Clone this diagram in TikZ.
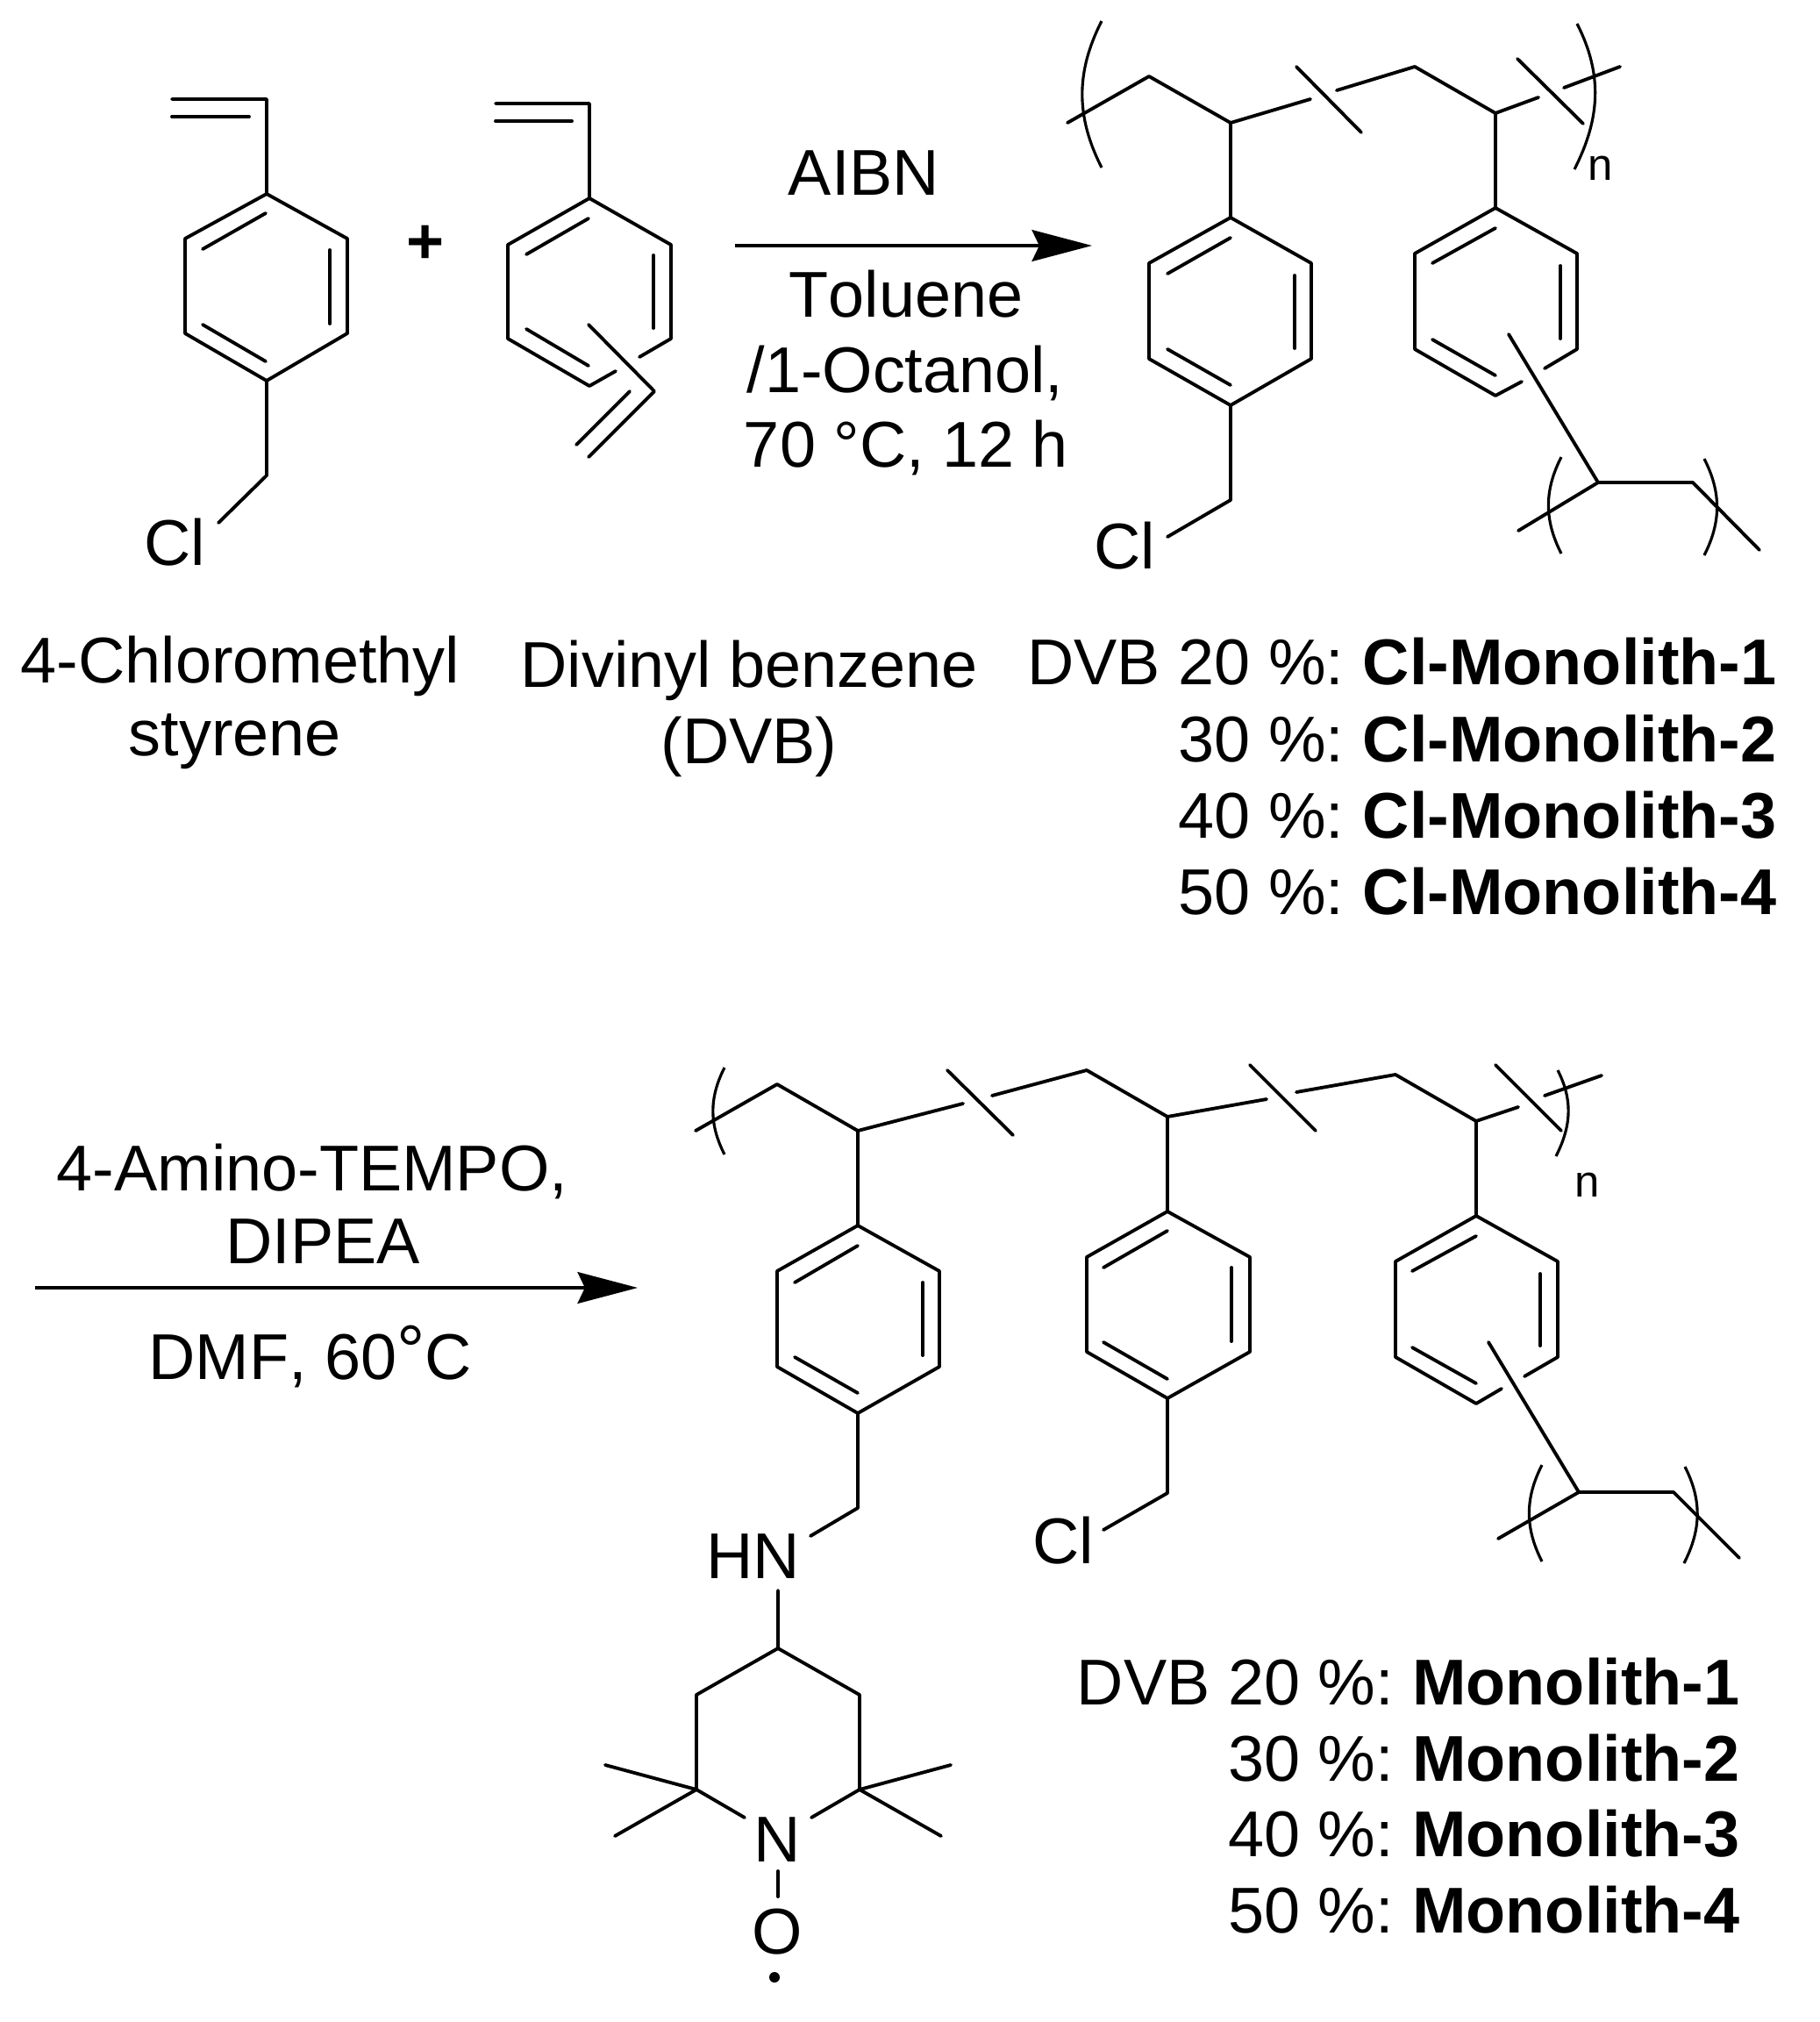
\documentclass[tikz,border=0pt]{standalone}
\usepackage{fontspec}
\setmainfont[Kerning=Off]{Liberation Sans}
\usetikzlibrary{arrows.meta}
\pgfdeclarelayer{edgelayer}
\pgfdeclarelayer{nodelayer}
\pgfsetlayers{edgelayer,nodelayer,main}
\tikzset{font=\fontsize{21}{25}\selectfont}
\tikzstyle{none}=[inner sep=0pt]
\tikzstyle{txt}=[inner sep=0pt,anchor=base]
\tikzstyle{txtr}=[inner sep=0pt,anchor=base east]
\tikzstyle{idx}=[inner sep=0pt,anchor=base,font=\fontsize{14.5}{17}\selectfont]
\tikzstyle{radical}=[circle,fill=black,inner sep=0pt,minimum size=0.12cm]
\tikzstyle{bond}=[line width=1.1pt,line cap=round,line join=round]
\tikzstyle{brack}=[line width=0.9pt,in=117,out=-117]
\tikzstyle{brackr}=[line width=0.9pt,in=63,out=-63]
\tikzstyle{arw}=[line width=0.9pt,-{Stealth[length=19.5pt,width=10.2pt,inset=2.4pt]}]
\newcommand{\colgap}{\hspace{-0.08em}}

\begin{document}
\begin{tikzpicture}
	\useasboundingbox (0,0) rectangle (20.75,-23.05);
	\begin{pgfonlayer}{nodelayer}
		\node [style=none] (0) at (1.96,-1.13) {};
		\node [style=none] (1) at (3.04,-1.13) {};
		\node [style=none] (2) at (1.96,-1.33) {};
		\node [style=none] (3) at (2.84,-1.33) {};
		\node [style=none] (4) at (3.04,-2.21) {};
		\node [style=none] (5) at (3.96,-2.72) {};
		\node [style=none] (6) at (3.96,-3.80) {};
		\node [style=none] (7) at (3.04,-4.34) {};
		\node [style=none] (8) at (2.11,-3.80) {};
		\node [style=none] (9) at (2.11,-2.72) {};
		\node [style=none] (10) at (2.31,-2.84) {};
		\node [style=none] (11) at (3.03,-2.43) {};
		\node [style=none] (12) at (3.76,-2.85) {};
		\node [style=none] (13) at (3.76,-3.69) {};
		\node [style=none] (14) at (2.31,-3.70) {};
		\node [style=none] (15) at (3.03,-4.12) {};
		\node [style=none] (16) at (3.04,-5.42) {};
		\node [style=none] (17) at (2.49,-5.96) {};
		\node [style=txt] (18) at (1.99,-6.44) {Cl};
		\node [style=none] (19) at (5.65,-1.18) {};
		\node [style=none] (20) at (6.72,-1.18) {};
		\node [style=none] (21) at (5.65,-1.38) {};
		\node [style=none] (22) at (6.52,-1.38) {};
		\node [style=none] (23) at (6.72,-2.26) {};
		\node [style=none] (24) at (7.65,-2.79) {};
		\node [style=none] (25) at (7.65,-3.86) {};
		\node [style=none] (26) at (7.29,-4.07) {};
		\node [style=none] (27) at (7.02,-4.23) {};
		\node [style=none] (28) at (6.72,-4.40) {};
		\node [style=none] (29) at (5.79,-3.86) {};
		\node [style=none] (30) at (5.79,-2.79) {};
		\node [style=none] (31) at (6.00,-2.90) {};
		\node [style=none] (32) at (6.71,-2.49) {};
		\node [style=none] (33) at (7.45,-2.91) {};
		\node [style=none] (34) at (7.45,-3.74) {};
		\node [style=none] (35) at (6.00,-3.75) {};
		\node [style=none] (36) at (6.71,-4.17) {};
		\node [style=none] (37) at (6.71,-3.70) {};
		\node [style=none] (38) at (7.46,-4.46) {};
		\node [style=none] (39) at (6.71,-5.21) {};
		\node [style=none] (40) at (7.18,-4.46) {};
		\node [style=none] (41) at (6.57,-5.07) {};
		\node [style=txt] (42) at (4.855,-3.00) {\textbf{+}};
		\node [style=none] (43) at (8.38,-2.80) {};
		\node [style=none] (44) at (12.45,-2.80) {};
		\node [style=txt] (45) at (9.85,-2.22) {AIBN};
		\node [style=none] (46) at (12.17,-1.40) {};
		\node [style=none] (47) at (13.10,-0.87) {};
		\node [style=none] (48) at (14.03,-1.40) {};
		\node [style=none] (49) at (14.94,-1.13) {};
		\node [style=none] (50) at (15.24,-1.03) {};
		\node [style=none] (51) at (16.13,-0.76) {};
		\node [style=none] (52) at (17.05,-1.29) {};
		\node [style=none] (53) at (17.54,-1.11) {};
		\node [style=none] (54) at (17.83,-1.00) {};
		\node [style=none] (55) at (18.47,-0.76) {};
		\node [style=none] (56) at (14.78,-0.76) {};
		\node [style=none] (57) at (15.52,-1.51) {};
		\node [style=none] (58) at (17.30,-0.67) {};
		\node [style=none] (59) at (18.05,-1.41) {};
		\node [style=none] (60) at (12.56,-0.24) {};
		\node [style=none] (61) at (12.56,-1.91) {};
		\node [style=none] (62) at (17.98,-0.27) {};
		\node [style=none] (63) at (17.95,-1.93) {};
		\node [style=idx] (64) at (18.25,-2.05) {n};
		\node [style=none] (65) at (14.03,-2.48) {};
		\node [style=none] (66) at (14.95,-3.00) {};
		\node [style=none] (67) at (14.95,-4.09) {};
		\node [style=none] (68) at (14.03,-4.62) {};
		\node [style=none] (69) at (13.10,-4.09) {};
		\node [style=none] (70) at (13.10,-3.00) {};
		\node [style=none] (71) at (13.31,-3.12) {};
		\node [style=none] (72) at (14.03,-2.71) {};
		\node [style=none] (73) at (14.76,-3.14) {};
		\node [style=none] (74) at (14.76,-3.97) {};
		\node [style=none] (75) at (13.31,-3.98) {};
		\node [style=none] (76) at (14.03,-4.39) {};
		\node [style=none] (77) at (14.03,-5.70) {};
		\node [style=none] (78) at (13.31,-6.12) {};
		\node [style=txt] (79) at (12.82,-6.48) {Cl};
		\node [style=none] (80) at (17.05,-2.37) {};
		\node [style=none] (81) at (17.98,-2.89) {};
		\node [style=none] (82) at (17.98,-3.98) {};
		\node [style=none] (83) at (17.61,-4.20) {};
		\node [style=none] (84) at (17.35,-4.35) {};
		\node [style=none] (85) at (17.05,-4.51) {};
		\node [style=none] (86) at (16.13,-3.98) {};
		\node [style=none] (87) at (16.13,-2.89) {};
		\node [style=none] (88) at (16.33,-3.00) {};
		\node [style=none] (89) at (17.05,-2.60) {};
		\node [style=none] (90) at (17.79,-3.03) {};
		\node [style=none] (91) at (17.79,-3.86) {};
		\node [style=none] (92) at (16.33,-3.87) {};
		\node [style=none] (93) at (17.05,-4.28) {};
		\node [style=none] (94) at (17.20,-3.81) {};
		\node [style=none] (95) at (18.22,-5.50) {};
		\node [style=none] (96) at (17.31,-6.05) {};
		\node [style=none] (97) at (19.30,-5.50) {};
		\node [style=none] (98) at (20.06,-6.27) {};
		\node [style=none] (99) at (17.80,-5.21) {};
		\node [style=none] (100) at (17.80,-6.31) {};
		\node [style=none] (101) at (19.43,-5.23) {};
		\node [style=none] (102) at (19.43,-6.33) {};
		\node [style=txtr] (103) at (20.26,-7.80) {DVB 20 \%: \colgap\textbf{Cl-Monolith-1}};
		\node [style=txtr] (104) at (20.26,-8.68) {30 \%: \colgap\textbf{Cl-Monolith-2}};
		\node [style=txtr] (105) at (20.26,-9.55) {40 \%: \colgap\textbf{Cl-Monolith-3}};
		\node [style=txtr] (106) at (20.26,-10.42) {50 \%: \colgap\textbf{Cl-Monolith-4}};
		\node [style=none] (107) at (0.40,-14.68) {};
		\node [style=none] (108) at (7.27,-14.68) {};
		\node [style=txt] (109) at (3.56,-13.57) {4-Amino-TEMPO,};
		\node [style=txt] (110) at (3.68,-14.40) {DIPEA};
		\node [style=txt] (111) at (3.54,-15.72) {DMF, 60\raisebox{0.05cm}{\fontsize{23}{23}\selectfont °}C};
		\node [style=none] (112) at (7.93,-12.89) {};
		\node [style=none] (113) at (8.86,-12.36) {};
		\node [style=none] (114) at (9.78,-12.89) {};
		\node [style=none] (115) at (10.98,-12.58) {};
		\node [style=none] (116) at (11.31,-12.49) {};
		\node [style=none] (117) at (12.39,-12.20) {};
		\node [style=none] (118) at (13.31,-12.73) {};
		\node [style=none] (119) at (14.44,-12.53) {};
		\node [style=none] (120) at (14.78,-12.45) {};
		\node [style=none] (121) at (15.91,-12.25) {};
		\node [style=none] (122) at (16.83,-12.78) {};
		\node [style=none] (123) at (17.31,-12.62) {};
		\node [style=none] (124) at (17.61,-12.49) {};
		\node [style=none] (125) at (18.26,-12.26) {};
		\node [style=none] (126) at (10.80,-12.20) {};
		\node [style=none] (127) at (11.55,-12.94) {};
		\node [style=none] (128) at (14.25,-12.14) {};
		\node [style=none] (129) at (15.00,-12.89) {};
		\node [style=none] (130) at (17.05,-12.14) {};
		\node [style=none] (131) at (17.80,-12.89) {};
		\node [style=none] (132) at (8.26,-12.17) {};
		\node [style=none] (133) at (8.26,-13.16) {};
		\node [style=none] (134) at (17.76,-12.20) {};
		\node [style=none] (135) at (17.74,-13.18) {};
		\node [style=idx] (136) at (18.10,-13.64) {n};
		\node [style=none] (137) at (9.78,-13.97) {};
		\node [style=none] (138) at (10.71,-14.49) {};
		\node [style=none] (139) at (10.71,-15.58) {};
		\node [style=none] (140) at (9.78,-16.11) {};
		\node [style=none] (141) at (8.86,-15.58) {};
		\node [style=none] (142) at (8.86,-14.49) {};
		\node [style=none] (143) at (9.06,-14.62) {};
		\node [style=none] (144) at (9.78,-14.20) {};
		\node [style=none] (145) at (10.52,-14.62) {};
		\node [style=none] (146) at (10.52,-15.45) {};
		\node [style=none] (147) at (9.06,-15.47) {};
		\node [style=none] (148) at (9.78,-15.88) {};
		\node [style=none] (149) at (9.78,-17.19) {};
		\node [style=none] (150) at (9.24,-17.51) {};
		\node [style=txt] (151) at (8.59,-17.99) {HN};
		\node [style=none] (152) at (8.87,-18.13) {};
		\node [style=none] (153) at (8.87,-18.79) {};
		\node [style=none] (154) at (9.80,-19.32) {};
		\node [style=none] (155) at (9.80,-20.40) {};
		\node [style=none] (156) at (9.25,-20.72) {};
		\node [style=none] (157) at (8.49,-20.72) {};
		\node [style=none] (158) at (7.94,-20.40) {};
		\node [style=none] (159) at (7.94,-19.32) {};
		\node [style=none] (160) at (6.90,-20.12) {};
		\node [style=none] (161) at (7.01,-20.93) {};
		\node [style=none] (162) at (10.84,-20.12) {};
		\node [style=none] (163) at (10.73,-20.93) {};
		\node [style=txt] (164) at (8.86,-21.22) {N};
		\node [style=none] (165) at (8.87,-21.33) {};
		\node [style=none] (166) at (8.87,-21.62) {};
		\node [style=txt] (167) at (8.86,-22.27) {O};
		\node [style=radical] (168) at (8.83,-22.54) {};
		\node [style=none] (169) at (13.31,-13.81) {};
		\node [style=none] (170) at (14.25,-14.33) {};
		\node [style=none] (171) at (14.25,-15.41) {};
		\node [style=none] (172) at (13.31,-15.94) {};
		\node [style=none] (173) at (12.39,-15.41) {};
		\node [style=none] (174) at (12.39,-14.33) {};
		\node [style=none] (175) at (12.58,-14.45) {};
		\node [style=none] (176) at (13.31,-14.03) {};
		\node [style=none] (177) at (14.04,-14.45) {};
		\node [style=none] (178) at (14.04,-15.29) {};
		\node [style=none] (179) at (12.58,-15.30) {};
		\node [style=none] (180) at (13.31,-15.72) {};
		\node [style=none] (181) at (13.31,-17.02) {};
		\node [style=none] (182) at (12.58,-17.44) {};
		\node [style=txt] (183) at (12.12,-17.82) {Cl};
		\node [style=none] (184) at (16.83,-13.86) {};
		\node [style=none] (185) at (17.76,-14.38) {};
		\node [style=none] (186) at (17.76,-15.47) {};
		\node [style=none] (187) at (17.38,-15.69) {};
		\node [style=none] (188) at (17.12,-15.83) {};
		\node [style=none] (189) at (16.83,-16.00) {};
		\node [style=none] (190) at (15.91,-15.47) {};
		\node [style=none] (191) at (15.91,-14.38) {};
		\node [style=none] (192) at (16.10,-14.49) {};
		\node [style=none] (193) at (16.83,-14.09) {};
		\node [style=none] (194) at (17.56,-14.52) {};
		\node [style=none] (195) at (17.56,-15.34) {};
		\node [style=none] (196) at (16.10,-15.36) {};
		\node [style=none] (197) at (16.83,-15.77) {};
		\node [style=none] (198) at (16.97,-15.30) {};
		\node [style=none] (199) at (18.00,-17.01) {};
		\node [style=none] (200) at (17.08,-17.54) {};
		\node [style=none] (201) at (19.08,-17.01) {};
		\node [style=none] (202) at (19.83,-17.76) {};
		\node [style=none] (203) at (17.58,-16.70) {};
		\node [style=none] (204) at (17.58,-17.80) {};
		\node [style=none] (205) at (19.21,-16.72) {};
		\node [style=none] (206) at (19.20,-17.82) {};
		\node [style=txtr] (207) at (19.84,-19.43) {DVB 20 \%: \colgap\textbf{Monolith-1}};
		\node [style=txtr] (208) at (19.84,-20.30) {30 \%: \colgap\textbf{Monolith-2}};
		\node [style=txtr] (209) at (19.84,-21.16) {40 \%: \colgap\textbf{Monolith-3}};
		\node [style=txtr] (210) at (19.84,-22.03) {50 \%: \colgap\textbf{Monolith-4}};
		\node [style=txt] (211) at (2.74,-7.785) {4-Chloromethyl};
		\node [style=txt] (212) at (2.68,-8.61) {styrene};
		\node [style=txt] (213) at (8.54,-7.83) {Divinyl benzene};
		\node [style=txt] (214) at (8.54,-8.70) {(DVB)};
		\node [style=txt] (215) at (10.33,-3.61) {Toluene};
		\node [style=txt] (216) at (10.32,-4.47) {/1-Octanol,};
		\node [style=txt] (217) at (10.33,-5.32) {70 °C, 12 h};
	\end{pgfonlayer}
	\begin{pgfonlayer}{edgelayer}
		\draw [style=bond] (0.center) to (1.center) to (4.center) to (5.center) to (6.center) to (7.center) to (8.center) to (9.center) to (4.center);
		\draw [style=bond] (2.center) to (3.center);
		\draw [style=bond] (10.center) to (11.center);
		\draw [style=bond] (12.center) to (13.center);
		\draw [style=bond] (14.center) to (15.center);
		\draw [style=bond] (7.center) to (16.center) to (17.center);
		\draw [style=bond] (19.center) to (20.center) to (23.center) to (24.center) to (25.center) to (26.center);
		\draw [style=bond] (21.center) to (22.center);
		\draw [style=bond] (27.center) to (28.center) to (29.center) to (30.center) to (23.center);
		\draw [style=bond] (31.center) to (32.center);
		\draw [style=bond] (33.center) to (34.center);
		\draw [style=bond] (35.center) to (36.center);
		\draw [style=bond] (37.center) to (38.center) to (39.center);
		\draw [style=bond] (40.center) to (41.center);
		\draw [style=arw] (43.center) to (44.center);
		\draw [style=bond] (46.center) to (47.center) to (48.center) to (49.center);
		\draw [style=bond] (50.center) to (51.center) to (52.center) to (53.center);
		\draw [style=bond] (54.center) to (55.center);
		\draw [style=bond] (56.center) to (57.center);
		\draw [style=bond] (58.center) to (59.center);
		\draw [style=brack] (60.center) to (61.center);
		\draw [style=brackr] (62.center) to (63.center);
		\draw [style=bond] (48.center) to (65.center) to (66.center) to (67.center) to (68.center) to (69.center) to (70.center) to (65.center);
		\draw [style=bond] (71.center) to (72.center);
		\draw [style=bond] (73.center) to (74.center);
		\draw [style=bond] (75.center) to (76.center);
		\draw [style=bond] (68.center) to (77.center) to (78.center);
		\draw [style=bond] (52.center) to (80.center) to (81.center) to (82.center) to (83.center);
		\draw [style=bond] (84.center) to (85.center) to (86.center) to (87.center) to (80.center);
		\draw [style=bond] (88.center) to (89.center);
		\draw [style=bond] (90.center) to (91.center);
		\draw [style=bond] (92.center) to (93.center);
		\draw [style=bond] (94.center) to (95.center);
		\draw [style=bond] (96.center) to (95.center) to (97.center) to (98.center);
		\draw [style=brack] (99.center) to (100.center);
		\draw [style=brackr] (101.center) to (102.center);
		\draw [style=arw] (107.center) to (108.center);
		\draw [style=bond] (112.center) to (113.center) to (114.center) to (115.center);
		\draw [style=bond] (116.center) to (117.center) to (118.center) to (119.center);
		\draw [style=bond] (120.center) to (121.center) to (122.center) to (123.center);
		\draw [style=bond] (124.center) to (125.center);
		\draw [style=bond] (126.center) to (127.center);
		\draw [style=bond] (128.center) to (129.center);
		\draw [style=bond] (130.center) to (131.center);
		\draw [style=brack] (132.center) to (133.center);
		\draw [style=brackr] (134.center) to (135.center);
		\draw [style=bond] (114.center) to (137.center) to (138.center) to (139.center) to (140.center) to (141.center) to (142.center) to (137.center);
		\draw [style=bond] (143.center) to (144.center);
		\draw [style=bond] (145.center) to (146.center);
		\draw [style=bond] (147.center) to (148.center);
		\draw [style=bond] (140.center) to (149.center) to (150.center);
		\draw [style=bond] (152.center) to (153.center) to (154.center) to (155.center) to (156.center);
		\draw [style=bond] (157.center) to (158.center) to (159.center) to (153.center);
		\draw [style=bond] (160.center) to (158.center) to (161.center);
		\draw [style=bond] (162.center) to (155.center) to (163.center);
		\draw [style=bond] (165.center) to (166.center);
		\draw [style=bond] (118.center) to (169.center) to (170.center) to (171.center) to (172.center) to (173.center) to (174.center) to (169.center);
		\draw [style=bond] (175.center) to (176.center);
		\draw [style=bond] (177.center) to (178.center);
		\draw [style=bond] (179.center) to (180.center);
		\draw [style=bond] (172.center) to (181.center) to (182.center);
		\draw [style=bond] (122.center) to (184.center) to (185.center) to (186.center) to (187.center);
		\draw [style=bond] (188.center) to (189.center) to (190.center) to (191.center) to (184.center);
		\draw [style=bond] (192.center) to (193.center);
		\draw [style=bond] (194.center) to (195.center);
		\draw [style=bond] (196.center) to (197.center);
		\draw [style=bond] (198.center) to (199.center);
		\draw [style=bond] (200.center) to (199.center) to (201.center) to (202.center);
		\draw [style=brack] (203.center) to (204.center);
		\draw [style=brackr] (205.center) to (206.center);
	\end{pgfonlayer}
\end{tikzpicture}
\end{document}
